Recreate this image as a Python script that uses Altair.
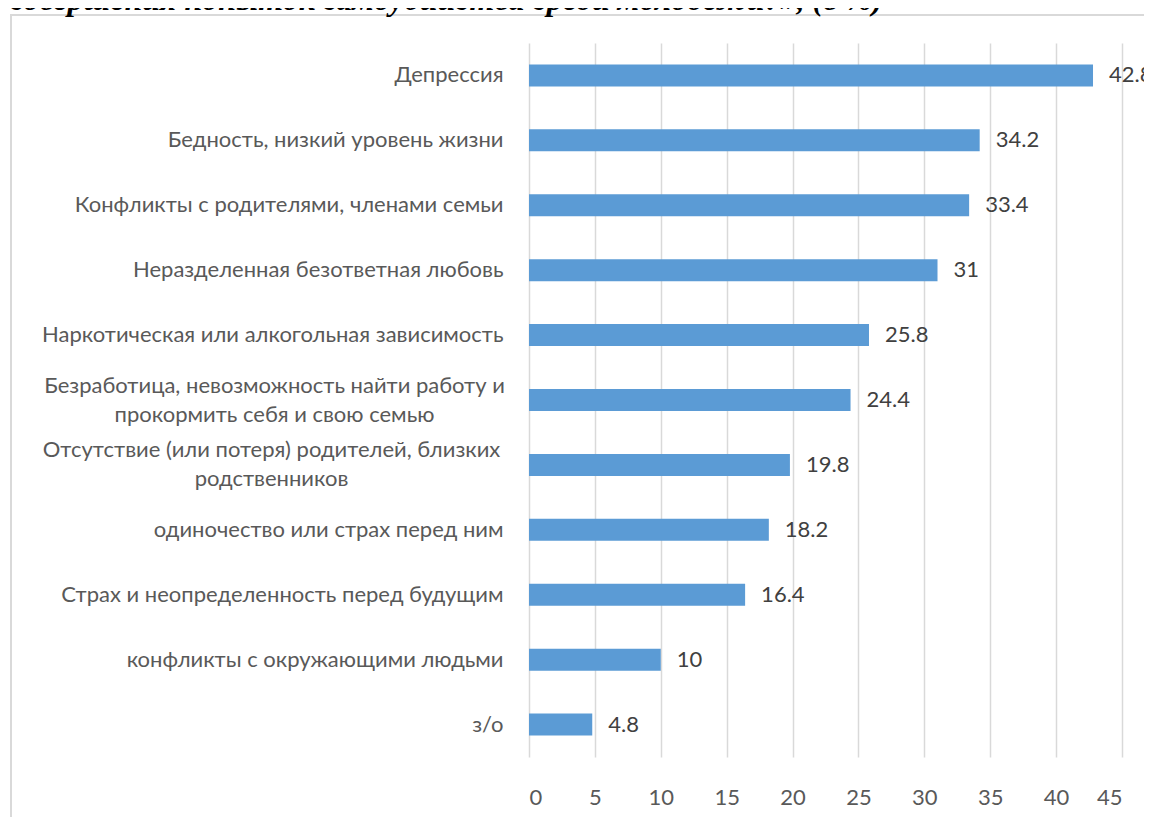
import json
import altair as alt
import pandas as pd

categories = [
    "Депрессия",
    "Бедность, низкий уровень жизни",
    "Конфликты с родителями, членами семьи",
    "Неразделенная безответная любовь",
    "Наркотическая или алкогольная зависимость",
    "Безработица, невозможность найти работу и прокормить себя и свою семью",
    "Отсутствие (или потеря) родителей, близких родственников",
    "одиночество или страх перед ним",
    "Страх и неопределенность перед будущим",
    "конфликты с окружающими людьми",
    "з/о",
]
values = [42.8, 34.2, 33.4, 31, 25.8, 24.4, 19.8, 18.2, 16.4, 10, 4.8]
x_ticks = [0, 5, 10, 15, 20, 25, 30, 35, 40, 45]
title_text = "совершения попыток самоубийства среди молодежи?», (в %)"

# line breaks of the two long category labels (lines centred on each other)
wrapped = {
    categories[5]: ["Безработица, невозможность найти работу и", "прокормить себя и свою семью"],
    categories[6]: ["Отсутствие (или потеря) родителей, близких", "родственников"],
}
# distance from the axis to the centre of the wrapped labels
wrap_pad = {categories[5]: 255, categories[6]: 258}

def js(v):
    return json.dumps(v, ensure_ascii=False)

label_expr = "datum.label"
for k, lines in wrapped.items():
    label_expr = f"datum.label === {js(k)} ? {js(lines)} : ({label_expr})"
wrap_keys = js(list(wrapped.keys()))
is_wrapped = f"indexof({wrap_keys}, datum.value) >= 0"
pad_expr = "26"
for k, p in wrap_pad.items():
    pad_expr = f"datum.value === {js(k)} ? {p} : ({pad_expr})"

df = pd.DataFrame({"cat": categories, "val": values})

LABEL_FONT = "Lato"
FS_LABEL = 22

x_enc = alt.X(
    "val:Q",
    scale=alt.Scale(domain=[0, 45], nice=False),
    axis=alt.Axis(
        values=x_ticks, title=None, grid=True, gridColor="#D9D9D9", gridWidth=1.5,
        domain=False, ticks=False, tickSize=0, labelFont=LABEL_FONT, labelFontSize=FS_LABEL,
        labelColor="#595959", labelPadding=30,
    ),
)
y_enc = alt.Y(
    "cat:N",
    sort=categories,
    scale=alt.Scale(paddingInner=0.1, paddingOuter=0.05),
    axis=alt.Axis(
        title=None, domain=False, ticks=False, tickSize=0, labelExpr=label_expr,
        labelFont=LABEL_FONT, labelFontSize=FS_LABEL, labelColor="#595959",
        labelAlign={"expr": f"{is_wrapped} ? 'center' : 'right'"},
        labelPadding={"expr": pad_expr},
        labelOffset={"expr": f"{is_wrapped} ? -14.5 : 0"},
        labelLineHeight=29, labelLimit=0,
    ),
)

base = alt.Chart(df)
bars = base.mark_bar(color="#5B9BD5", size=22).encode(x=x_enc, y=y_enc)
value_text = base.mark_text(
    align="left", baseline="middle", dx=16, font=LABEL_FONT, fontSize=FS_LABEL, color="#404040"
).encode(
    x=alt.X("val:Q"),
    y=alt.Y("cat:N", sort=categories),
    text=alt.Text("val:Q", format="~g"),
)

one = pd.DataFrame({"t": [title_text]})
frame = alt.Chart(one).mark_rect(fill="transparent", stroke="#D9D9D9", strokeWidth=2).encode(
    x=alt.value(-518), x2=alt.value(700), y=alt.value(-28), y2=alt.value(900)
)
title = alt.Chart(one).mark_text(
    align="left", baseline="alphabetic", font="Liberation Serif", fontStyle="italic",
    fontWeight="bold", fontSize=32, color="#000000",
).encode(x=alt.value(-519), y=alt.value(-33), text="t:N")

chart = (
    alt.layer(frame, title, bars, value_text)
    .properties(
        width=593, height=714, autosize="none",
        padding={"left": 521, "top": 35, "right": 22, "bottom": 60},
        background="#FFFFFF",
    )
    .configure_view(strokeWidth=0)
)

chart.save("out.html", embed_options={"renderer": "svg", "actions": False})
